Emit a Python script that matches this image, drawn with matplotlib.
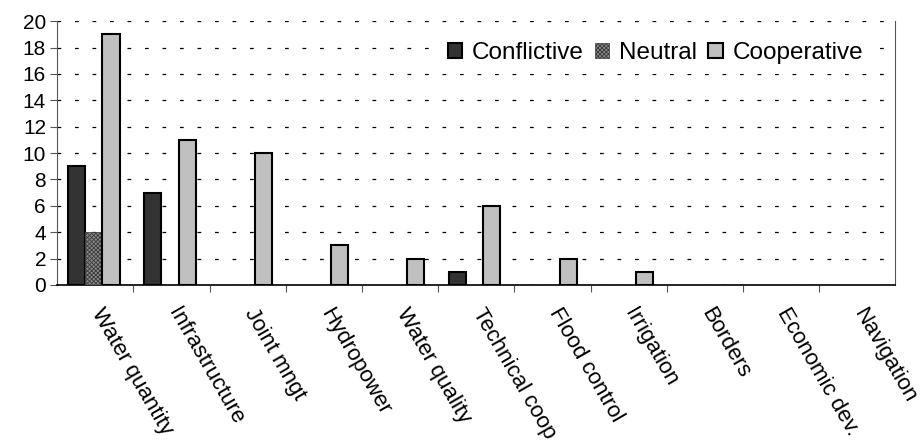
import matplotlib
matplotlib.use('Agg')
import matplotlib.pyplot as plt
import matplotlib.transforms as mtransforms
import numpy as np

plt.rcParams['font.family'] = ['Liberation Sans', 'DejaVu Sans']
plt.rcParams['hatch.linewidth'] = 0.6

categories = ["Water quantity", "Infrastructure", "Joint mngt", "Hydropower",
              "Water quality", "Technical coop", "Flood control", "Irrigation",
              "Borders", "Economic dev.", "Navigation"]
conflictive = [9, 7, 0, 0, 0, 1, 0, 0, 0, 0, 0]
neutral = [4, 0, 0, 0, 0, 0, 0, 0, 0, 0, 0]
cooperative = [19, 11, 10, 3, 2, 6, 2, 1, 0, 0, 0]

fig = plt.figure(figsize=(9.23, 4.41), dpi=100)
ax = fig.add_axes([0.062, 0.354, 0.908, 0.598])

x = np.arange(len(categories)) + 0.48
w = 0.225

def nz(vals):
    return [(xi, v) for xi, v in zip(x, vals) if v > 0]

c = nz(conflictive)
ax.bar([p[0] - w for p in c], [p[1] for p in c], w, color='#333333',
       edgecolor='black', linewidth=1.5, label='Conflictive', zorder=3)
n = nz(neutral)
ax.bar([p[0] for p in n], [p[1] for p in n], w, color='#8a8a8a',
       edgecolor='#3a3a3a', hatch='xxxxxxxx', linewidth=0.5, label='Neutral', zorder=3)
k = nz(cooperative)
ax.bar([p[0] + w for p in k], [p[1] for p in k], w, color='#c0c0c0',
       edgecolor='black', linewidth=1.5, label='Cooperative', zorder=3)

ax.set_xlim(0, len(categories))
ax.set_ylim(0, 20)
ax.set_yticks(range(0, 21, 2))
ax.yaxis.grid(True, color='black', linestyle=(0, (3, 11)), linewidth=0.9, zorder=0)

ax.set_xticks(np.arange(1, len(categories)))
ax.set_xticklabels([])
ax.tick_params(axis='x', which='major', direction='out', length=5, color='#555555')
ax.set_xticks(np.arange(len(categories)) + 0.5, minor=True)
ax.set_xticklabels(categories, minor=True, rotation=-60, ha='left', va='top',
                   rotation_mode='anchor', fontsize=16)
ax.tick_params(axis='x', which='minor', length=0, pad=14)
ax.tick_params(axis='y', direction='out', length=5, labelsize=15, pad=3, color='#555555')

# nudge the rotated labels right, like the original
shift = mtransforms.ScaledTranslation(10 / 100, 0, fig.dpi_scale_trans)
for lbl in ax.get_xticklabels(minor=True):
    lbl.set_transform(lbl.get_transform() + shift)

ax.spines['top'].set_visible(False)
ax.spines['right'].set_color('#555555')
ax.spines['left'].set_color('#555555')
ax.spines['bottom'].set_color('black')
ax.spines['bottom'].set_linewidth(1.2)

# white box without border, hides the gridline behind it
leg = ax.legend(loc='center right', bbox_to_anchor=(0.973, 0.88), ncol=3, frameon=True,
                fontsize=17.5, handlelength=0.6, handleheight=0.6,
                handletextpad=0.4, columnspacing=0.45, borderaxespad=0,
                borderpad=0.4, fancybox=False, framealpha=1)
leg.get_frame().set_facecolor('white')
leg.get_frame().set_edgecolor('none')
leg.set_zorder(5)

fig.savefig('out.png', dpi=100)
